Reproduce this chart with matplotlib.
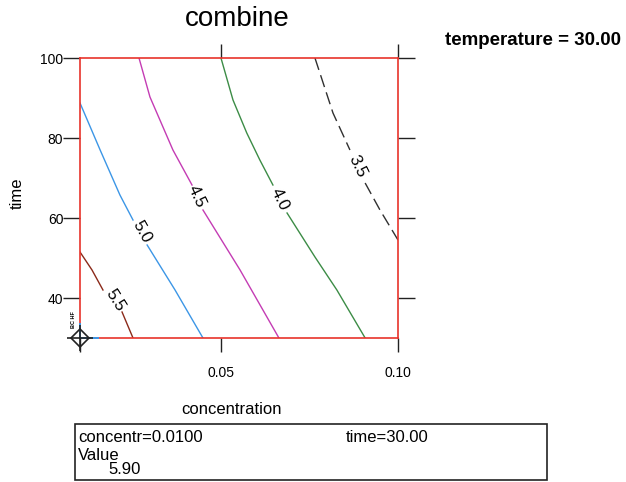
import numpy as np
import matplotlib
matplotlib.use("Agg")
import matplotlib.pyplot as plt
from matplotlib.patches import Rectangle

plt.rcParams['font.family'] = ['Liberation Sans', 'DejaVu Sans']

# contour levels and their traced paths (nan = gap left for the inline label)
levels = ['5.5', '5.0', '4.5', '4.0', '3.5']
level_colors = ['#8b2a1a', '#3c96e6', '#c43cb4', '#3c8c46', '#303030']
level_styles = ['-', '-', '-', '-', (0, (9, 4))]

conc_55 = [0.0100, 0.0134, 0.0165, np.nan, 0.0219, 0.0250]
time_55 = [51.5, 47.0, 42.0, np.nan, 36.5, 30.0]

conc_50 = [0.0100, 0.0157, 0.0213, 0.0250, np.nan, 0.0290, 0.0369, 0.0448]
time_50 = [88.75, 77.0, 65.75, 59.5, np.nan, 53.25, 42.0, 30.0]

conc_45 = [0.0267, 0.0298, 0.0363, 0.0417, np.nan, 0.0448, 0.0553, 0.0663]
time_45 = [100.0, 90.25, 77.0, 68.25, np.nan, 62.0, 47.0, 30.0]

conc_40 = [0.0499, 0.0533, 0.0572, 0.0609, 0.0646, np.nan, 0.0686, 0.0765, 0.0827, 0.0907]
time_40 = [100.0, 89.5, 81.25, 74.5, 68.25, np.nan, 61.25, 50.25, 42.0, 30.0]

conc_35 = [0.0765, 0.0816, 0.0864, np.nan, 0.0907, 0.0949, 0.1000]
time_35 = [100.0, 86.25, 77.0, np.nan, 68.75, 62.0, 54.5]

# inline label spots
label_conc = [0.0199, 0.0276, 0.0431, 0.0666, 0.0884]
label_time = [39.5, 56.5, 65.25, 64.75, 73.0]
label_rot = [-58, -61, -65, -64, -64]

# current point readout
cur_conc = 0.01
cur_time = 30.0
cur_value = 5.90
temperature = 30.00

x_ticks = [0.01, 0.05, 0.10]
x_ticklabels = ['', '0.05', '0.10']
y_ticks = [40, 60, 80, 100]

fig = plt.figure(figsize=(6.26, 4.82), dpi=100)
ax = fig.add_axes([80 / 626, 1 - 338 / 482, 318 / 626, 280 / 482])
ax.set_xlim(0.01, 0.10)
ax.set_ylim(30, 100)

paths = [(conc_55, time_55), (conc_50, time_50), (conc_45, time_45),
         (conc_40, time_40), (conc_35, time_35)]
for (cx, ty), c, ls in zip(paths, level_colors, level_styles):
    ax.plot(cx, ty, color=c, lw=1.0, linestyle=ls)

for lab, lx, ly, r in zip(levels, label_conc, label_time, label_rot):
    ax.text(lx, ly, lab, rotation=r, ha='center', va='center', fontsize=12)

# little bit of the 5.9 contour hugging the corner
ax.plot([cur_conc, cur_conc], [cur_time, cur_time + 3.5], color='#3c96e6', lw=1.4, zorder=4, clip_on=False)
ax.plot([cur_conc, cur_conc + 0.0051], [cur_time, cur_time], color='#3c96e6', lw=1.4, zorder=4, clip_on=False)

# crosshair marker at the current point
ax.plot(cur_conc, cur_time, marker='+', ms=19, mew=1.2, color='#222222', clip_on=False, zorder=5)
ax.plot(cur_conc, cur_time, marker='D', ms=9, mew=1.2, mfc='none', mec='#222222', clip_on=False, zorder=5)
ax.text(0.0081, 34.5, 'BC HF', rotation=90, fontsize=4, ha='center', va='center', weight='bold')

for s in ax.spines.values():
    s.set_color('#e8332b')
    s.set_linewidth(1.2)

ax.set_xticks(x_ticks, labels=x_ticklabels)
ax.set_yticks(y_ticks)
ax.tick_params(axis='y', which='both', direction='out', length=12, width=1, color='#222222',
               left=True, right=True, labelleft=True, labelright=False, labelsize=10, pad=0)
ax.tick_params(axis='x', which='both', direction='out', length=10, width=1, color='#222222',
               bottom=True, top=True, labelbottom=True, labeltop=False, labelsize=10, pad=10)
# no top tick at 0.01
ax.xaxis.get_major_ticks()[0].tick2line.set_visible(False)

fig.text(237 / 626, 1 - 19 / 482, 'combine', fontsize=20, ha='center', va='center')
fig.text(445 / 626, 1 - 45 / 482, 'temperature = %.2f' % temperature, fontsize=13.5,
         weight='bold', ha='left', va='baseline')
fig.text(232 / 626, 1 - 409 / 482, 'concentration', fontsize=12, ha='center', va='center')
fig.text(17 / 626, 1 - 193 / 482, 'time', fontsize=12, ha='center', va='center', rotation=90)

# readout box
fig.patches.append(Rectangle((75 / 626, 1 - 480 / 482), 472 / 626, 56 / 482,
                             transform=fig.transFigure, fill=False, ec='#222222', lw=1.2))
fig.text(78 / 626, 1 - 437 / 482, 'concentr=%.4f' % cur_conc, fontsize=12, ha='left', va='center')
fig.text(346 / 626, 1 - 437 / 482, 'time=%.2f' % cur_time, fontsize=12, ha='left', va='center')
fig.text(78 / 626, 1 - 455 / 482, 'Value', fontsize=12, ha='left', va='center')
fig.text(108 / 626, 1 - 470 / 482, '%.2f' % cur_value, fontsize=12, ha='left', va='center')

fig.savefig('out.png', dpi=100)
